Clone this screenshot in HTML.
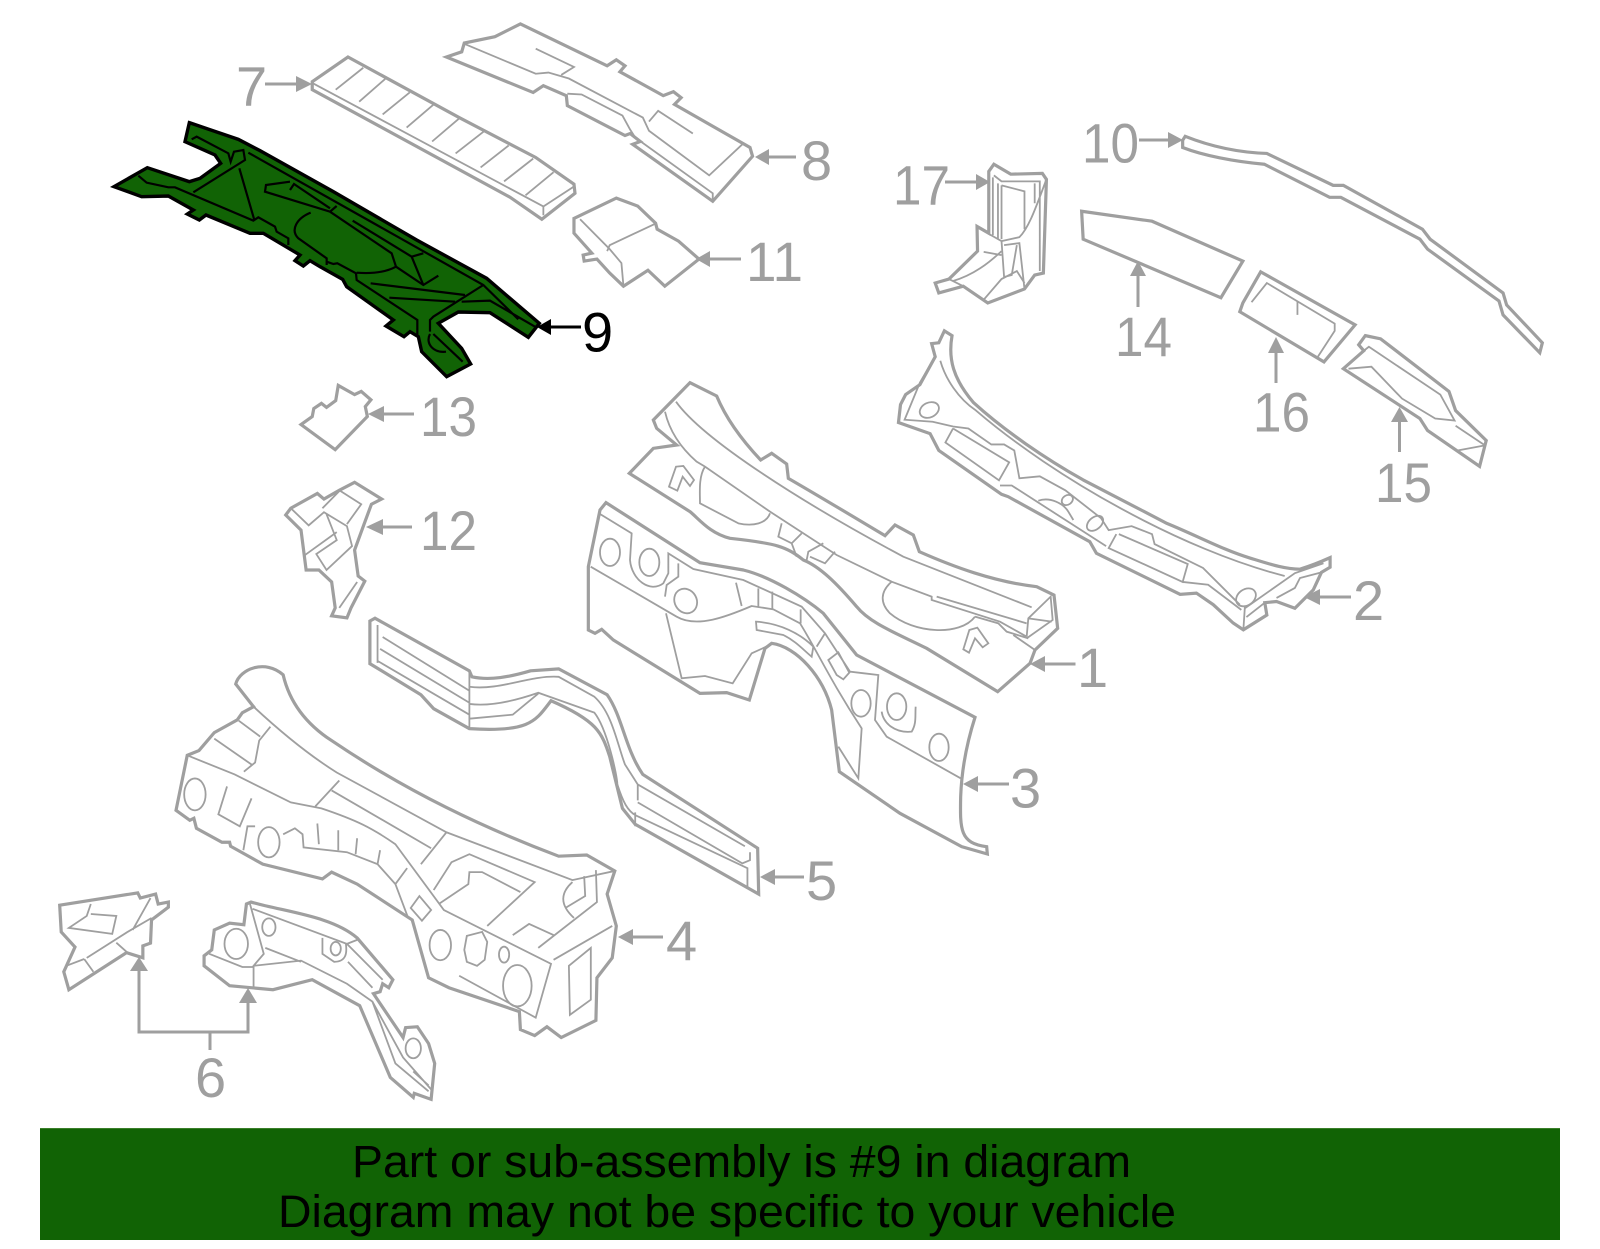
<!DOCTYPE html>
<html><head><meta charset="utf-8"><style>
html,body{margin:0;padding:0;background:#fff}
svg{display:block}
.o,.i,.k,.n{fill:none;stroke-linejoin:miter;vector-effect:non-scaling-stroke}
.o{stroke:#9f9f9f;stroke-width:3.2}
.i{stroke:#9f9f9f;stroke-width:1.8}
.k{stroke:#000;stroke-width:3.4;fill:#116305}
.n{stroke:#000;stroke-width:2.2}
.t{font-family:"Liberation Sans",sans-serif;font-size:56px;fill:#9f9f9f}
.b{font-family:"Liberation Sans",sans-serif;font-size:45px;fill:#000}
</style></head><body>
<svg xmlns="http://www.w3.org/2000/svg" width="1600" height="1249" viewBox="0 0 1600 1249">
<rect width="1600" height="1249" fill="#fff"/>
<!-- part 9 -->
<g transform="translate(100,110) scale(.33333)">
<path class="k" d="M268,38L415,88L480,122L700,245L950,390L1160,505L1230,565L1318,640L1285,682L1170,608L1075,606L1015,640L1085,715L1112,762L1040,800L965,725L955,680L930,665L912,680L858,648L880,630L740,530L728,508L660,470L630,452L610,468L585,452L600,435L490,370L450,370L318,315L298,330L262,312L280,300L205,258L125,260L42,230L142,173L268,215L300,205L362,160L345,135L255,95Z"/>
<path class="n" d="M275,88L290,80L385,130L392,155L402,125L430,120L435,150L280,247M418,175L463,330M115,197L140,218L205,232L225,232L460,332L475,322L525,350L530,365L565,385L565,405M445,128L1150,525L1255,628M1150,525L1000,620L990,630L990,665M570,215L498,225L495,245L690,305L710,288M570,240L582,222L690,295M690,305L875,430L888,470M632,308C590,325 570,360 595,385L680,445L680,465M680,455L700,462L712,460L768,490L770,510L952,630L952,680M770,488C820,492 860,485 888,470L970,525L1015,497M935,440L970,525M758,332L935,440L970,430M812,520L1095,555M868,563L1065,575M1085,575L1170,572L1305,650M1000,672L1088,755M990,672C975,700 1000,730 1038,725"/>
</g>
<!-- Q1 parts 7 8 11 13 12 -->
<g transform="matrix(.5102 0 0 .3986 0 0)">
<path class="o" d="M612,205L682,143L900,295L1050,395L1125,462L1127,485L1062,550L1000,495L612,225Z"/>
<path class="i" d="M612,208L1065,518L1065,540M1065,518L1125,468M712,170L658,225M755,198L704,255M803,232L750,287M850,262L797,320M900,297L847,355M948,330L893,385M997,365L942,420M1045,398L988,455M1085,432L1030,490"/>
<path class="o" d="M875,143L905,130L910,108L970,92L1020,60L1190,165L1208,150L1225,165L1215,180L1300,240L1320,230L1335,245L1322,262L1470,370L1475,392L1397,505L1240,362L1255,355L1235,335L1225,340L1112,265L1110,240L1065,215L1045,232Z"/>
<path class="i" d="M910,110L1050,185L1075,182L1115,197L1260,295L1272,328L1390,440L1455,362M1050,122L1125,168L1100,188M1112,235L1140,237L1220,290L1235,325L1245,345L1397,485L1397,505M1272,305L1290,278L1358,335"/>
<path class="o" d="M1125,548L1208,497L1250,517L1285,560L1288,575L1330,605L1370,650L1303,718L1270,678L1222,718L1195,685L1170,650L1145,655L1143,640L1160,635L1125,585Z"/>
<path class="i" d="M1137,550L1195,625L1218,660L1222,718M1190,630L1195,615L1283,562"/>
<path class="o" d="M590,1065L612,1045L615,1025L630,1012L640,1022L658,1005L663,967L695,990L708,982L727,1003L716,1020L720,1045L657,1128Z"/>
<path class="o" d="M560,1292L570,1275L622,1238L635,1252L665,1230L695,1210L748,1252L728,1265L715,1310L695,1380L702,1445L715,1458L688,1525L680,1550L650,1545L657,1525L650,1460L625,1430L600,1430L590,1330Z"/>
<path class="i" d="M570,1275L605,1318L635,1285L680,1320L690,1370L640,1430L620,1390L660,1355L640,1290M595,1395L660,1335M632,1275L665,1232M665,1230L708,1265L680,1315M665,1525L700,1460"/>
</g>
<!-- Q2 parts 10 14 16 15 17 2 -->
<g transform="matrix(.5102 0 0 .3986 800 0)">
<path class="o" d="M750,352L755,342C800,365 850,382 915,385L1045,465L1065,465L1220,575L1235,600L1378,735L1385,765L1455,860L1450,885L1378,790L1370,755L1230,625L1215,600L1060,495L1038,495L910,412C850,405 790,390 750,370Z"/>
<path class="o" d="M552,530L690,555L868,655L825,747L555,600Z"/>
<path class="o" d="M903,682L1088,815L1027,908L862,782L868,760Z"/>
<path class="i" d="M885,758L915,710L1048,812L1048,830L1015,895M975,755L975,790"/>
<path class="o" d="M1108,842L1138,850L1272,982L1285,1030L1345,1105L1332,1170L1230,1080L1215,1050L1065,925L1105,880L1095,865Z"/>
<path class="i" d="M1075,925L1120,920L1180,1000L1245,1050L1283,1055L1255,990L1115,870L1105,880M1285,1068L1340,1115M1290,1130L1340,1118"/>
<path class="o" d="M370,430L380,412L413,437L475,435L483,450L477,685L460,690L440,725L368,760L320,718L272,735L265,710L292,700L348,630L347,568L370,585Z"/>
<path class="i" d="M378,445L378,590M388,460L388,600M395,465L395,600M395,465L440,480L440,575M380,440L395,455L470,455L470,680M460,460L460,510M483,450C465,510 450,570 430,595L395,605M347,570L395,605L400,695L415,690L425,615M400,615L430,610L440,725M300,705C340,690 370,660 395,630M360,632L395,640M358,755L395,700L425,680L440,710M292,700L320,718"/>
<path class="o" d="M283,830L298,842C290,900 300,950 340,1010C400,1080 480,1150 555,1204L719,1313C780,1345 830,1380 882,1400C920,1415 950,1428 980,1428C1000,1420 1020,1410 1039,1399L1039,1423L1022,1436L1006,1480L970,1526L934,1509L911,1512L915,1543L869,1580L849,1563L810,1517L777,1488L745,1491L581,1388L568,1359L408,1246L395,1240L272,1130L255,1088L193,1060L197,1015L207,990L235,965L265,895L258,862L272,860Z"/>
<path class="i" d="M275,905C285,950 310,1000 345,1030C500,1200 750,1380 950,1445M265,895L235,960L205,1053L260,1058L300,1070L330,1075L375,1115L400,1115L420,1130L430,1200L470,1195L520,1230L590,1300L605,1330L650,1320L690,1340L695,1365L790,1425L862,1517M300,1075L285,1110L390,1205L410,1160L300,1075M620,1340L605,1375L750,1460L760,1415L625,1340M392,1218L415,1218L600,1370M750,1460L800,1467L865,1530M872,1522L869,1580M872,1526L970,1438L1026,1413M875,1548L911,1512M934,1500L970,1475L980,1450L1022,1436"/>
</g>
<g transform="translate(570,370) scale(.33333)">
<ellipse class="i" cx="1078" cy="120" rx="30" ry="22" transform="rotate(-25 1078 120)"/>
</g>
<g transform="translate(1000,480) scale(.33333)">
<ellipse class="i" cx="202" cy="60" rx="18" ry="14" transform="rotate(-35 202 60)"/>
<ellipse class="i" cx="285" cy="130" rx="28" ry="18" transform="rotate(-40 285 130)"/>
<ellipse class="i" cx="738" cy="352" rx="32" ry="24" transform="rotate(-35 738 352)"/>
<path class="i" d="M115,62C150,50 190,70 205,95L220,120"/>
</g>
<!-- parts 1 and 3 -->
<g transform="translate(570,370) scale(.33333)">
<path class="o" d="M250,150L360,38L440,78C470,150 520,215 572,270L605,250L650,282L655,325C750,380 850,440 945,497L975,465L1030,495L1048,545C1150,590 1270,635 1400,650L1452,675L1463,775L1395,840L1380,880L1283,965L1070,835C980,790 900,760 860,710C800,640 750,590 700,570C650,530 620,520 480,505C420,490 390,450 360,425L178,310L250,235L320,225L260,175Z"/>
<path class="i" d="M285,125C300,190 340,240 380,275L405,290L600,425L800,555L965,635L1085,680L1085,690L1290,755L1370,800M318,95C400,210 700,400 1000,560L1385,712M1100,680L1370,760M405,290C385,320 390,370 390,400L505,460C550,470 590,460 600,430M635,460L625,500L665,520L695,490M665,520L680,560M710,570L715,545L760,520M720,560L765,580L795,545M965,635C930,665 930,700 960,730C1030,790 1170,800 1215,740M297,350L318,290L340,288L372,330L360,348L338,320L322,362ZM1180,838L1198,780L1222,773L1255,820L1238,832L1215,805L1197,848ZM1370,800L1375,745L1442,680L1448,750L1370,805M1375,745L1445,755M1215,740L1285,760L1310,785L1375,805M1330,795L1395,840"/>
<path class="o" d="M55,590L90,420L108,398L390,578L520,600C600,620 700,680 760,730L860,855L1215,1042C1190,1120 1175,1200 1172,1280C1170,1380 1170,1420 1250,1430L1252,1452L1175,1430L990,1330L808,1205L785,1020C760,920 680,830 605,820L585,835L538,990L470,968L390,970L130,810L95,778L75,790L55,780Z"/>
<path class="i" d="M62,590L320,740C380,775 470,740 545,708L610,718L690,760C740,840 780,930 875,1075L865,1225L805,1130M90,432L185,490L180,570C185,630 240,670 280,640L295,610L295,550L370,597L520,630L695,710L765,790L840,905L882,910L925,915L915,1050L950,1100L1172,1225M288,730L335,925L405,918L488,940L545,850L600,825M325,580L325,620L290,645L285,680M498,638L515,708M565,655L565,712M607,665L607,718M692,718L692,760M765,790L740,830M558,755L560,780L640,795C680,815 700,840 725,860L730,830C690,790 630,760 558,755ZM775,870L805,847L838,908L820,928L800,915ZM935,1025C940,1060 975,1090 1025,1085C1040,1060 1035,1040 1037,1010"/>
<ellipse class="i" cx="120" cy="547" rx="30" ry="41"/>
<ellipse class="i" cx="238" cy="577" rx="30" ry="41"/>
<ellipse class="i" cx="347" cy="693" rx="33" ry="38" transform="rotate(-30 347 693)"/>
<ellipse class="i" cx="873" cy="1000" rx="29" ry="40"/>
<ellipse class="i" cx="980" cy="1010" rx="29" ry="40"/>
<ellipse class="i" cx="1107" cy="1132" rx="29" ry="41"/>
</g>
<!-- Q3 parts 5 4 6 -->
<g transform="matrix(.5102 0 0 .3986 0 625)">
<path class="o" d="M725,97L725,-10L735,-17L920,115L925,130C960,140 1000,130 1040,115L1095,110L1190,175C1220,230 1225,310 1260,375L1485,560L1487,675L1245,500L1220,460L1195,330C1180,270 1170,240 1080,190C1050,240 1040,270 920,260L850,210L825,175Z"/>
<path class="i" d="M740,0L740,95M750,30L920,165M745,60L920,195M740,90L920,225M920,120L920,260M920,155C980,165 1040,125 1095,130L1165,180C1200,220 1210,300 1225,350L1250,400L1460,555M920,198C960,205 1010,190 1055,170L1165,220C1190,260 1210,380 1210,400C1220,440 1230,470 1250,480L1465,610L1465,660M1250,400L1250,440M1245,470L1245,505M1250,445L1455,598L1470,590L1470,570M920,235L1005,225L1055,172"/>
<path class="o" d="M345,465L367,327L390,315L420,270L465,238L475,220L497,205L462,148C470,110 520,85 555,125C565,180 590,240 650,290C800,420 950,510 1095,580L1150,577L1205,617L1190,675L1208,755L1200,835L1170,885L1168,992L1100,1035L1072,1008L1048,1030L1020,1015L1018,970L880,910L840,885L808,740L700,650L650,620L632,637L515,600L452,555L450,545L435,545L385,510L380,485L372,490Z"/>
<path class="i" d="M497,205C560,280 610,330 660,370L875,520L1122,640L1205,617M367,327L460,375L570,445L630,460C700,490 730,510 775,550L870,715L1080,850L1050,985L900,880M420,285L493,350M468,240L510,280M530,255L508,290L500,345L478,368M665,390L618,455M650,415L845,560M875,520L825,600M850,665L885,595L920,575L1048,645L955,755M860,700L918,650L920,620L945,620L1020,670M1005,778L1037,750L1085,778M1055,810L1170,695L1168,615M1085,840L1200,755M1115,855L1158,810L1158,940L1117,978ZM1145,630L1147,680L1108,710M1122,645C1100,670 1095,700 1125,735M445,405L428,475L470,505L493,435M500,505L485,505L477,565M555,525L578,510L593,525L595,558L680,570L740,600L775,650L800,735M622,498L625,550M663,515L663,565M700,535L697,575M745,565L740,600M798,610L775,650M805,710L822,680L845,715L827,742ZM915,780L945,770L955,795L950,840L935,855L915,845L910,815Z"/>
<ellipse class="i" cx="382" cy="425" rx="21" ry="40"/>
<ellipse class="i" cx="527" cy="545" rx="21" ry="38"/>
<ellipse class="i" cx="863" cy="803" rx="21" ry="38"/>
<ellipse class="i" cx="1014" cy="905" rx="28" ry="52"/>
<ellipse class="i" cx="988" cy="827" rx="10" ry="20"/>
<path class="o" d="M483,700L492,695C560,720 650,730 700,785L770,890L762,910L750,900L745,920L732,925L790,1035L795,1010L818,1008L840,1050L852,1100L845,1190L812,1175L810,1185L765,1135L705,955L612,890L535,915L450,905L400,855L400,830L415,815L420,765L450,748L478,752Z"/>
<path class="i" d="M495,712L680,800L750,890M490,700L517,825L497,855L590,842L680,900L730,945L790,1085L845,1165M410,825L475,858L497,858L497,910M520,810L590,845M680,800L700,790M682,845L730,910M730,945L775,1100L840,1170M632,785L632,825L655,845C680,845 680,820 678,800M810,1120L840,1155"/>
<ellipse class="i" cx="463" cy="800" rx="23" ry="38"/>
<ellipse class="i" cx="527" cy="758" rx="13" ry="22"/>
<ellipse class="i" cx="658" cy="812" rx="10" ry="17"/>
<ellipse class="i" cx="810" cy="1062" rx="15" ry="25"/>
<path class="o" d="M117,703L270,672L275,685L305,675L310,700L330,695L330,708L297,740L295,798L280,805L280,835L248,822L135,915L125,870L147,808L120,770Z"/>
<path class="i" d="M178,700L170,730L135,760L220,775L228,730L178,725M295,685L260,765M170,835L250,770L297,735M228,797L250,822M165,838L183,870M130,855L165,838"/>
</g>
<!-- arrows -->
<g fill="#9f9f9f" stroke="none">
<polygon points="312,84 296,76 296,92"/><polygon points="755,157 769,149 769,165"/><polygon points="696,259 710,251 710,267"/>
<polygon points="368,414 384,406 384,422"/><polygon points="366,527 383,519 383,535"/><polygon points="990,182 976,174 976,190"/>
<polygon points="1183,140 1168,132 1168,148"/><polygon points="1138,261 1130,276 1146,276"/><polygon points="1276,337 1268,353 1284,353"/>
<polygon points="1399.5,407 1391,422 1408,422"/><polygon points="1304,597 1320,589 1320,605"/><polygon points="1030,664 1045,656 1045,672"/>
<polygon points="963,784 978,776 978,792"/><polygon points="760,877 775,869 775,885"/><polygon points="618,937 633,929 633,945"/>
<polygon points="139,957 130,971 148,971"/><polygon points="248,988 239,1003 257,1003"/>
</g>
<polygon points="537,327 551,319 551,335" fill="#000"/>
<g fill="none" stroke="#9f9f9f" stroke-width="3">
<path d="M265,84H298M769,157H796M710,259H741M384,414H414M383,527H412M945,182H976M1139,140H1168M1138,276V307M1276,353V383M1399.5,422V452M1320,597H1351M1045,664H1075.5M978,784H1009M775,877H804M633,937H663M139,971V1032H248V1003M210,1032V1050"/>
</g>
<path d="M551,327H581" stroke="#000" stroke-width="3"/>
<!-- labels -->
<text class="t" x="236" y="105.600">7</text>
<text class="t" x="801" y="180">8</text>
<text class="t" x="746" y="281" textLength="57" lengthAdjust="spacingAndGlyphs">11</text>
<text class="t" x="420" y="436" textLength="57" lengthAdjust="spacingAndGlyphs">13</text>
<text class="t" x="420" y="550" textLength="57" lengthAdjust="spacingAndGlyphs">12</text>
<text class="t" x="893" y="204.500" textLength="57" lengthAdjust="spacingAndGlyphs">17</text>
<text class="t" x="1082" y="162.600" textLength="57" lengthAdjust="spacingAndGlyphs">10</text>
<text class="t" x="1115" y="356" textLength="57" lengthAdjust="spacingAndGlyphs">14</text>
<text class="t" x="1253" y="431.700" textLength="57" lengthAdjust="spacingAndGlyphs">16</text>
<text class="t" x="1375" y="502" textLength="57" lengthAdjust="spacingAndGlyphs">15</text>
<text class="t" x="1353" y="620">2</text>
<text class="t" x="1077" y="687">1</text>
<text class="t" x="1010" y="807.500">3</text>
<text class="t" x="806" y="900">5</text>
<text class="t" x="666" y="960">4</text>
<text class="t" x="195" y="1097">6</text>
<text class="t" x="582" y="351.600" style="fill:#000">9</text>
<!-- bar -->
<rect x="40" y="1128" width="1520" height="112" fill="#116305"/>
<rect x="40" y="1128" width="1520" height="1" fill="#3a7f2a"/>
<text class="b" x="352" y="1177" textLength="779" lengthAdjust="spacingAndGlyphs">Part or sub-assembly is #9 in diagram</text>
<text class="b" x="278" y="1227" textLength="898" lengthAdjust="spacingAndGlyphs">Diagram may not be specific to your vehicle</text>
</svg>
</body></html>
